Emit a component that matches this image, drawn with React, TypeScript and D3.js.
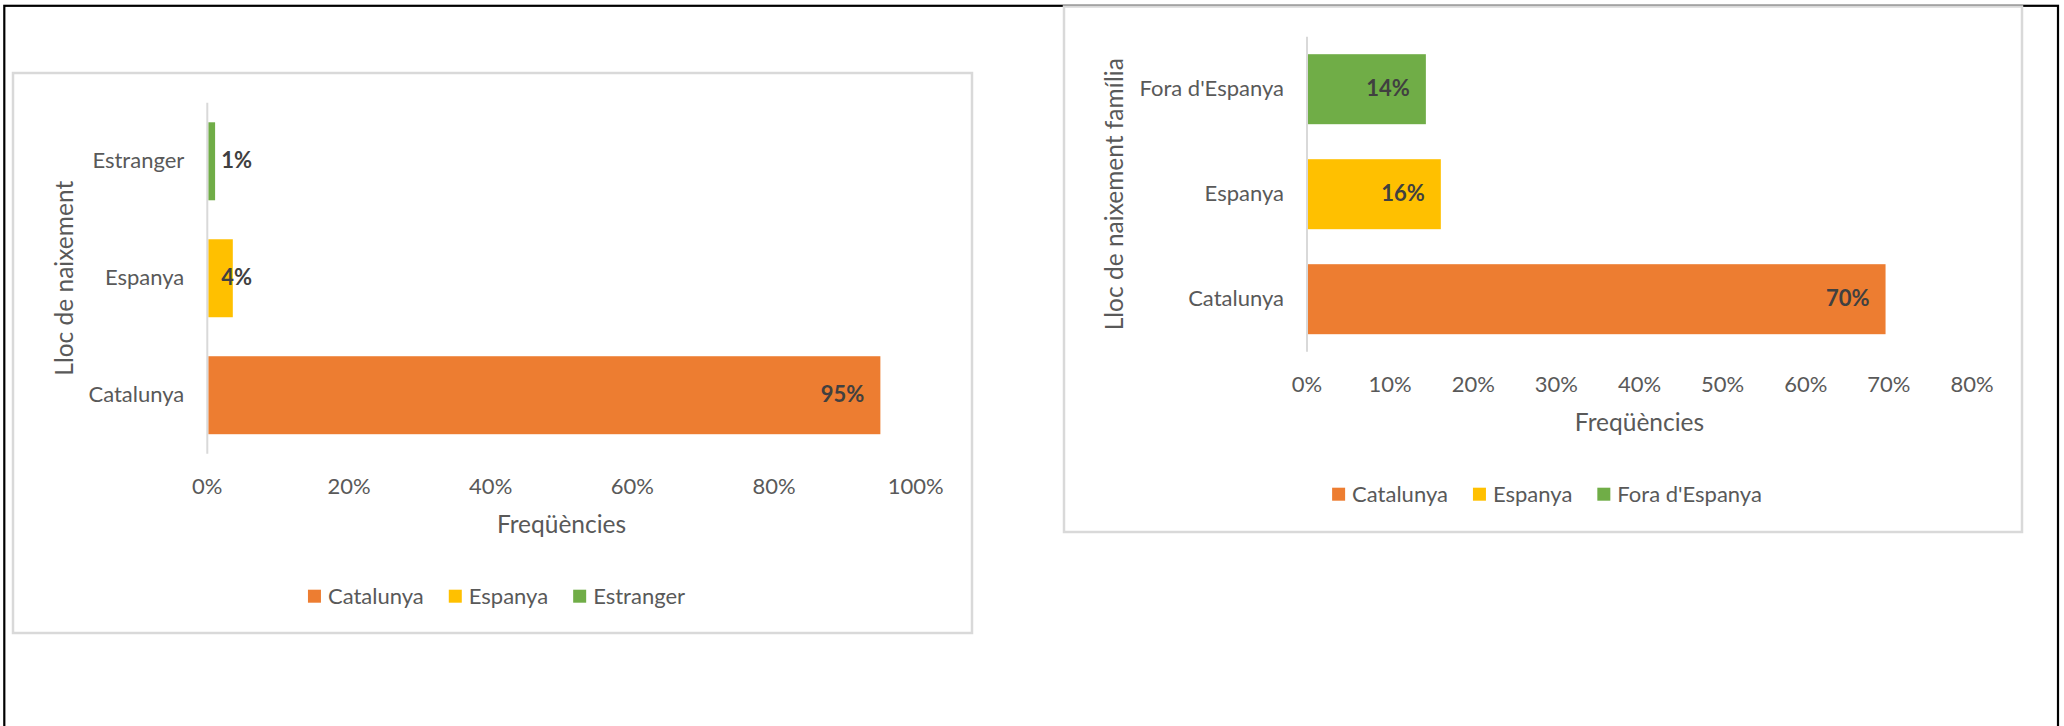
import { useEffect, useRef } from "react";
import * as d3 from "d3";

// Left chart: lloc de naixement
const birthCategories = ["Catalunya", "Espanya", "Estranger"];
const birthValues = [0.95, 0.036, 0.011];
const birthTicks = [0, 0.2, 0.4, 0.6, 0.8, 1.0];
const birthAxisTitle = "Lloc de naixement";

// Right chart: lloc de naixement família
const familyCategories = ["Catalunya", "Espanya", "Fora d'Espanya"];
const familyValues = [0.696, 0.161, 0.143];
const familyTicks = [0, 0.1, 0.2, 0.3, 0.4, 0.5, 0.6, 0.7, 0.8];
const familyAxisTitle = "Lloc de naixement família";

const valueAxisTitle = "Freqüències";
const barColors = ["#ED7D31", "#FFC000", "#70AD47"];

const FONT = "Lato, 'Noto Sans', sans-serif";
const LABEL_SIZE = 22;
const TITLE_SIZE = 24.5;
const GRAY = "#595959";
const DARK = "#404040";

interface ChartOpts {
    box: { x: number; y: number; w: number; h: number };
    plot: { x0: number; x1: number; y0: number; y1: number };
    titleX: number;
    categories: string[];
    values: number[];
    ticks: number[];
    yTitle: string;
}

function drawChart(svg: d3.Selection<SVGSVGElement, unknown, null, undefined>, o: ChartOpts) {
    const g = svg.append("g").attr("font-family", FONT);

    g.append("rect")
        .attr("x", o.box.x).attr("y", o.box.y)
        .attr("width", o.box.w).attr("height", o.box.h)
        .attr("fill", "#fff")
        .attr("stroke", "#d9d9d9")
        .attr("stroke-width", 2.5);

    const x = d3.scaleLinear()
        .domain([0, d3.max(o.ticks)!])
        .range([o.plot.x0, o.plot.x1]);

    const y = d3.scaleBand()
        .domain([...o.categories].reverse())
        .range([o.plot.y0, o.plot.y1])
        .paddingInner(1 / 3)
        .paddingOuter(1 / 6);

    const rows = o.categories.map((c, i) => ({ c, v: o.values[i], color: barColors[i] }));

    // Bars
    g.selectAll("rect.bar")
        .data(rows)
        .join("rect")
        .attr("class", "bar")
        .attr("x", x(0) + 1)
        .attr("y", d => y(d.c)!)
        .attr("width", d => x(d.v) - x(0) - 1)
        .attr("height", y.bandwidth())
        .attr("fill", d => d.color);

    // Category axis line
    g.append("line")
        .attr("x1", x(0)).attr("x2", x(0))
        .attr("y1", o.plot.y0).attr("y2", o.plot.y1)
        .attr("stroke", "#d9d9d9")
        .attr("stroke-width", 2);

    // Category labels
    g.selectAll("text.cat")
        .data(rows)
        .join("text")
        .attr("class", "cat")
        .attr("x", x(0) - 23)
        .attr("y", d => y(d.c)! + y.bandwidth() / 2)
        .attr("dy", "0.3em")
        .attr("text-anchor", "end")
        .attr("font-size", LABEL_SIZE)
        .attr("fill", GRAY)
        .text(d => d.c);

    // Value tick labels
    const fmt = d3.format(".0%");
    g.selectAll("text.tick")
        .data(o.ticks)
        .join("text")
        .attr("class", "tick")
        .attr("x", d => x(d))
        .attr("y", o.plot.y1 + 40)
        .attr("text-anchor", "middle")
        .attr("font-size", LABEL_SIZE)
        .attr("fill", GRAY)
        .text(d => fmt(d));

    // Axis titles
    g.append("text")
        .attr("x", (o.plot.x0 + o.plot.x1) / 2)
        .attr("y", o.plot.y1 + 79)
        .attr("text-anchor", "middle")
        .attr("font-size", TITLE_SIZE)
        .attr("fill", GRAY)
        .text(valueAxisTitle);

    g.append("text")
        .attr("transform", `translate(${o.titleX},${(o.plot.y0 + o.plot.y1) / 2}) rotate(-90)`)
        .attr("text-anchor", "middle")
        .attr("font-size", TITLE_SIZE)
        .attr("fill", GRAY)
        .text(o.yTitle);

    // Data labels: inside end, pushed right of the axis when the bar is too short
    g.selectAll("text.val")
        .data(rows)
        .join("text")
        .attr("class", "val")
        .attr("y", d => y(d.c)! + y.bandwidth() / 2)
        .attr("dy", "0.3em")
        .attr("font-size", LABEL_SIZE)
        .attr("font-weight", "bold")
        .attr("fill", DARK)
        .text(d => fmt(d.v))
        .each(function (d) {
            const t = d3.select(this);
            const w = (this as SVGTextElement).getComputedTextLength();
            const start = Math.max(x(d.v) - 16 - w, x(0) + 14);
            t.attr("x", start);
        });

    // Legend
    const legend = g.append("g");
    const baseline = o.plot.y1 + 150;
    let cursor = 0;
    rows.forEach(d => {
        legend.append("rect")
            .attr("x", cursor).attr("y", baseline - 14)
            .attr("width", 13).attr("height", 13)
            .attr("fill", d.color);
        const t = legend.append("text")
            .attr("x", cursor + 20)
            .attr("y", baseline)
            .attr("font-size", LABEL_SIZE)
            .attr("fill", GRAY)
            .text(d.c);
        cursor += 20 + (t.node() as SVGTextElement).getComputedTextLength() + 25;
    });
    const legendW = cursor - 25;
    legend.attr("transform", `translate(${o.box.x + o.box.w / 2 + 4 - legendW / 2},0)`);
}

export default function App() {
    const svgRef = useRef<SVGSVGElement>(null);

    useEffect(() => {
        if (!svgRef.current) return;
        const svg = d3.select(svgRef.current);
        svg.selectAll("*").remove();

        svg.append("rect").attr("width", 2064).attr("height", 726).attr("fill", "#fff");

        // Outer black frame (bottom edge falls outside the picture)
        svg.append("rect")
            .attr("x", 4.3).attr("y", 5.8)
            .attr("width", 2058 - 4.3).attr("height", 800)
            .attr("fill", "none")
            .attr("stroke", "#000")
            .attr("stroke-width", 2.2);

        drawChart(svg, {
            box: { x: 13, y: 73, w: 959, h: 560 },
            plot: { x0: 207.3, x1: 915.8, y0: 102.8, y1: 453.7 },
            titleX: 72.7,
            categories: birthCategories,
            values: birthValues,
            ticks: birthTicks,
            yTitle: birthAxisTitle,
        });

        drawChart(svg, {
            box: { x: 1064, y: 6.5, w: 958, h: 525.5 },
            plot: { x0: 1307, x1: 1972, y0: 36.7, y1: 351.7 },
            titleX: 1123.3,
            categories: familyCategories,
            values: familyValues,
            ticks: familyTicks,
            yTitle: familyAxisTitle,
        });
    }, []);

    return (
        <svg
            ref={svgRef}
            width={2064}
            height={726}
            style={{ position: "absolute", left: 0, top: 0, display: "block" }}
        ></svg>
    );
}
